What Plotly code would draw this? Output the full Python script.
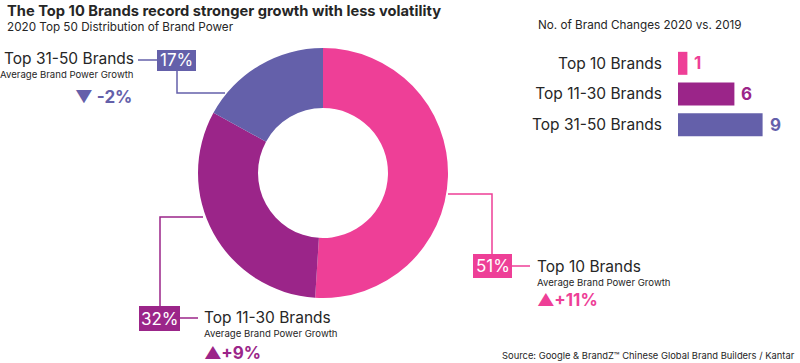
import plotly.graph_objects as go

W, H = 800, 363

# ---- data ----
segments = ["Top 10 Brands", "Top 11-30 Brands", "Top 31-50 Brands"]
share_pct = [51, 32, 17]
growth_labels = ["▲+11%", "▲+9%", "▼ -2%"]
brand_changes = [1, 6, 9]
colors = ["#EE3F97", "#9B2589", "#6460AA"]

TXT = "#262626"
FONT = "Inter"

def px(x):
    return x / W

def py(y):
    return 1 - y / H

fig = go.Figure()

fig.add_trace(go.Pie(
    labels=segments, values=share_pct, hole=0.52, sort=False,
    direction="clockwise", rotation=0,
    marker=dict(colors=colors, line=dict(width=0)),
    textinfo="none", hoverinfo="label+value", showlegend=False,
    domain=dict(x=[px(198), px(448)], y=[py(298), py(48)]),
))

fig.add_trace(go.Bar(
    y=segments, x=brand_changes, orientation="h",
    marker=dict(color=colors, line=dict(width=0)),
    xaxis="x2", yaxis="y2", showlegend=False, hoverinfo="x+y",
))

# value labels next to bars
for s, v, c in zip(segments, brand_changes, colors):
    fig.add_annotation(x=v, y=s, xref="x2", yref="y2", text=f"<b>{v}</b>",
                       showarrow=False, xanchor="left", xshift=5,
                       font=dict(family=FONT, size=17, color=c))

def text(x, y, t, size, color=TXT, anchor="left", bold=False, yanchor="middle"):
    if bold:
        t = f"<b>{t}</b>"
    fig.add_annotation(x=px(x), y=py(y), xref="paper", yref="paper", text=t,
                       showarrow=False, xanchor=anchor, yanchor=yanchor,
                       font=dict(family=FONT, size=size, color=color))

def box(x0, y0, x1, y1, t, color):
    fig.add_shape(type="rect", xref="paper", yref="paper",
                  x0=px(x0), x1=px(x1), y0=py(y1), y1=py(y0),
                  fillcolor=color, line=dict(width=0), layer="above")
    fig.add_annotation(x=px((x0 + x1) / 2), y=py((y0 + y1) / 2), xref="paper", yref="paper",
                       text=t, showarrow=False, xanchor="center", yanchor="middle",
                       font=dict(family=FONT, size=17, color="white"))

def line(pts, color):
    path = "M " + " L ".join(f"{px(a)},{py(b)}" for a, b in pts)
    fig.add_shape(type="path", path=path, xref="paper", yref="paper",
                  line=dict(color=color, width=1.5), layer="above")

LBL = 15.5
SUB = 9.6
GR = 17

# Titles
text(5, 11, "The Top 10 Brands record stronger growth with less volatility", 14.7, TXT, bold=True)
text(5, 27, "2020 Top 50 Distribution of Brand Power", 11.7, TXT)
text(536, 25, "No. of Brand Changes 2020 vs. 2019", 11.7, TXT)
text(797, 355, "Source: Google & BrandZ™ Chinese Global Brand Builders / Kantar", 9.4, TXT, anchor="right")

# Top 31-50 callout
line([(138, 60), (157, 60)], colors[2])
line([(177, 71), (177, 93), (225, 93)], colors[2])
box(157, 50, 196, 71, f"{share_pct[2]}%", colors[2])
text(136, 59, segments[2], LBL, TXT, anchor="right")
text(136, 75, "Average Brand Power Growth", SUB, TXT, anchor="right")
text(134, 97, growth_labels[2], GR, colors[2], anchor="right", bold=True)

# Top 10 callout
line([(448, 194), (492, 194), (492, 254)], colors[0])
line([(512, 266), (530, 266)], colors[0])
box(473, 254, 512, 278, f"{share_pct[0]}%", colors[0])
text(535, 266, segments[0], LBL, TXT)
text(535, 282, "Average Brand Power Growth", SUB, TXT)
text(535, 300, growth_labels[0], GR, colors[0], bold=True)

# Top 11-30 callout
line([(203, 217), (160, 217), (160, 306)], colors[1])
line([(180, 318), (198, 318)], colors[1])
box(139, 306, 180, 331, f"{share_pct[1]}%", colors[1])
text(202, 317, segments[1], LBL, TXT)
text(202, 333, "Average Brand Power Growth", SUB, TXT)
text(202, 353, growth_labels[1], GR, colors[1], bold=True)

fig.update_layout(
    width=W, height=H, margin=dict(l=0, r=0, t=0, b=0),
    paper_bgcolor="white", plot_bgcolor="white",
    font=dict(family=FONT, color=TXT),
    bargap=0.25, hovermode=False,
    xaxis2=dict(domain=[px(678), px(772)], range=[0, 10], visible=False, anchor="y2"),
    yaxis2=dict(domain=[py(140), py(48)], autorange="reversed", anchor="x2",
                showgrid=False, showline=False, zeroline=False, ticks="",
                ticklabelstandoff=15, tickfont=dict(family=FONT, size=LBL, color=TXT)),
)

fig.write_html("out.html", config={"displayModeBar": False},
               post_script="document.body.style.margin='0';document.body.style.overflow='hidden';")
